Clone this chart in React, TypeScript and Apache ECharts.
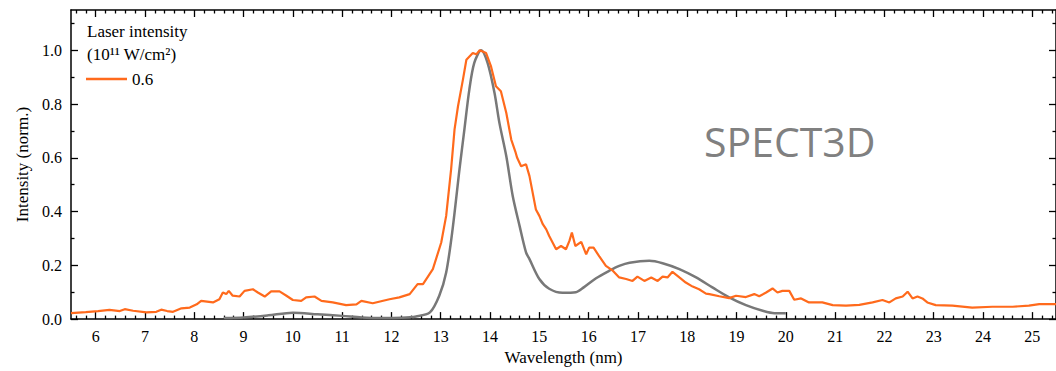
import React, { useEffect, useRef } from "react";
import * as echarts from "echarts";

// Experimental spectrum, laser intensity 0.6 x 10^11 W/cm² : [wavelength nm, normalized intensity]
const experimentData: [number, number][] = [
  [5.5, 0.022], [5.8, 0.026], [6.05, 0.03], [6.28, 0.034], [6.49, 0.03], [6.59, 0.037],
  [6.76, 0.031], [7.03, 0.025], [7.23, 0.027], [7.33, 0.035], [7.45, 0.03], [7.57, 0.027],
  [7.74, 0.04], [7.91, 0.043], [8.05, 0.055], [8.14, 0.068], [8.38, 0.062], [8.51, 0.074],
  [8.58, 0.099], [8.65, 0.093], [8.7, 0.105], [8.78, 0.087], [8.92, 0.084], [9.02, 0.105],
  [9.19, 0.111], [9.29, 0.099], [9.43, 0.084], [9.56, 0.103], [9.73, 0.103], [9.87, 0.087],
  [10.0, 0.071], [10.17, 0.068], [10.27, 0.081], [10.44, 0.084], [10.58, 0.068], [10.81, 0.062],
  [11.08, 0.052], [11.29, 0.055], [11.39, 0.068], [11.62, 0.059], [11.96, 0.074], [12.16, 0.081],
  [12.37, 0.093], [12.53, 0.13], [12.64, 0.13], [12.84, 0.186], [13.01, 0.285], [13.11, 0.384],
  [13.21, 0.557], [13.28, 0.706], [13.35, 0.792], [13.45, 0.891], [13.52, 0.965], [13.65, 0.99],
  [13.72, 0.985], [13.79, 1.0], [13.92, 0.99], [14.02, 0.94], [14.12, 0.866], [14.22, 0.848],
  [14.33, 0.767], [14.43, 0.668], [14.52, 0.619], [14.55, 0.6], [14.63, 0.569], [14.73, 0.576],
  [14.8, 0.532], [14.93, 0.408], [15.0, 0.384], [15.07, 0.353], [15.14, 0.334], [15.2, 0.309],
  [15.34, 0.26], [15.44, 0.272], [15.54, 0.26], [15.61, 0.291], [15.66, 0.322], [15.73, 0.272],
  [15.85, 0.287], [15.95, 0.241], [16.01, 0.266], [16.1, 0.266], [16.22, 0.232], [16.35, 0.198],
  [16.49, 0.18], [16.62, 0.155], [16.76, 0.149], [16.89, 0.142], [16.99, 0.158], [17.13, 0.142],
  [17.27, 0.155], [17.4, 0.142], [17.5, 0.158], [17.6, 0.155], [17.7, 0.176], [17.84, 0.155],
  [17.97, 0.136], [18.11, 0.121], [18.24, 0.111], [18.38, 0.095], [18.45, 0.093], [18.65, 0.085],
  [18.85, 0.078], [18.99, 0.087], [19.19, 0.082], [19.36, 0.093], [19.46, 0.085], [19.6, 0.099],
  [19.73, 0.114], [19.83, 0.099], [19.93, 0.105], [20.07, 0.105], [20.17, 0.072], [20.31, 0.077],
  [20.47, 0.062], [20.74, 0.062], [20.95, 0.052], [21.22, 0.05], [21.49, 0.053], [21.76, 0.062],
  [21.96, 0.071], [22.1, 0.062], [22.23, 0.077], [22.37, 0.084], [22.47, 0.102], [22.57, 0.077],
  [22.67, 0.084], [22.77, 0.077], [22.87, 0.062], [23.04, 0.052], [23.38, 0.05], [23.78, 0.043],
  [24.19, 0.046], [24.6, 0.046], [24.93, 0.05], [25.14, 0.056], [25.48, 0.056],
];

// SPECT3D simulated spectrum
const simulationData: [number, number][] = [
  [8.6, 0.004], [9.0, 0.006], [9.5, 0.014], [10.0, 0.024], [10.5, 0.018], [11.0, 0.012],
  [11.4, 0.006], [11.8, 0.004], [12.2, 0.005], [12.5, 0.01], [12.78, 0.025], [12.97, 0.087],
  [13.11, 0.173], [13.24, 0.334], [13.38, 0.557], [13.48, 0.706], [13.58, 0.854], [13.68, 0.953],
  [13.82, 1.0], [13.95, 0.953], [14.09, 0.842], [14.19, 0.73], [14.33, 0.606], [14.46, 0.458],
  [14.6, 0.346], [14.73, 0.248], [14.8, 0.223], [15.0, 0.149], [15.2, 0.113], [15.47, 0.098],
  [15.74, 0.1], [15.9, 0.118], [16.15, 0.152], [16.42, 0.18], [16.62, 0.198], [16.83, 0.21],
  [17.23, 0.217], [17.5, 0.208], [17.84, 0.186], [18.18, 0.155], [18.51, 0.118], [18.85, 0.081],
  [19.19, 0.052], [19.53, 0.031], [19.77, 0.022], [20.0, 0.022],
];

const xMajorTicks = [6, 7, 8, 9, 10, 11, 12, 13, 14, 15, 16, 17, 18, 19, 20, 21, 22, 23, 24, 25];
const xMinorTicks: number[] = [
  5.6, 5.8, 6.2, 6.4, 6.6, 6.8, 7.2, 7.4, 7.6, 7.8, 8.2, 8.4, 8.6, 8.8, 9.2, 9.4, 9.6, 9.8,
  10.2, 10.4, 10.6, 10.8, 11.2, 11.4, 11.6, 11.8, 12.2, 12.4, 12.6, 12.8, 13.2, 13.4, 13.6, 13.8,
  14.2, 14.4, 14.6, 14.8, 15.2, 15.4, 15.6, 15.8, 16.2, 16.4, 16.6, 16.8, 17.2, 17.4, 17.6, 17.8,
  18.2, 18.4, 18.6, 18.8, 19.2, 19.4, 19.6, 19.8, 20.2, 20.4, 20.6, 20.8, 21.2, 21.4, 21.6, 21.8,
  22.2, 22.4, 22.6, 22.8, 23.2, 23.4, 23.6, 23.8, 24.2, 24.4, 24.6, 24.8, 25.2, 25.4,
];
const yMajorTicks = [0, 0.2, 0.4, 0.6, 0.8, 1.0];
const yMinorTicks = [0.1, 0.3, 0.5, 0.7, 0.9, 1.1];

const X_MIN = 5.5;
const X_MAX = 25.48;
const Y_MIN = 0;
const Y_MAX = 1.15;

const SERIF = "'Liberation Serif', 'Times New Roman', serif";
const ORANGE = "#ff6a1c";
const GREY = "#787878";

export default function App() {
  const ref = useRef<HTMLDivElement>(null);

  useEffect(() => {
    document.body.style.margin = "0";
    if (!ref.current) return;
    const chart = echarts.init(ref.current, undefined, { renderer: "svg" });

    const xAxisBase = (position: "top" | "bottom", ticks: number[], len: number, showLine: boolean, labels: boolean, name?: string) => ({
      type: "value" as const,
      position,
      min: X_MIN,
      max: X_MAX,
      gridIndex: 0,
      name,
      nameLocation: "middle" as const,
      nameGap: 29,
      nameTextStyle: { fontFamily: SERIF, fontSize: 17, color: "#000" },
      axisLine: { show: showLine, onZero: false, lineStyle: { color: "#000", width: 1.5 } },
      axisTick: { show: true, inside: true, length: len, customValues: ticks, lineStyle: { color: "#000", width: 1.3 } },
      axisLabel: labels
        ? { show: true, customValues: xMajorTicks, margin: 9, fontFamily: SERIF, fontSize: 16, color: "#000", formatter: (v: number) => String(v) }
        : { show: false },
      splitLine: { show: false },
    });

    const yAxisBase = (position: "left" | "right", ticks: number[], len: number, showLine: boolean, labels: boolean, name?: string) => ({
      type: "value" as const,
      position,
      min: Y_MIN,
      max: Y_MAX,
      gridIndex: 0,
      name,
      nameLocation: "middle" as const,
      nameGap: 37,
      nameTextStyle: { fontFamily: SERIF, fontSize: 17, color: "#000" },
      axisLine: { show: showLine, onZero: false, lineStyle: { color: "#000", width: 1.5 } },
      axisTick: { show: true, inside: true, length: len, customValues: ticks, lineStyle: { color: "#000", width: 1.3 } },
      axisLabel: labels
        ? { show: true, customValues: yMajorTicks, margin: 9, fontFamily: SERIF, fontSize: 16, color: "#000", formatter: (v: number) => v.toFixed(1) }
        : { show: false },
      splitLine: { show: false },
    });

    chart.setOption({
      animation: false,
      backgroundColor: "#ffffff",
      grid: { left: 71, top: 10, width: 986, height: 310, containLabel: false },
      xAxis: [
        xAxisBase("bottom", xMajorTicks, 7, true, true, "Wavelength (nm)"),
        xAxisBase("bottom", xMinorTicks, 3.5, false, false),
        xAxisBase("top", xMajorTicks, 7, true, false),
        xAxisBase("top", xMinorTicks, 3.5, false, false),
      ],
      yAxis: [
        yAxisBase("left", yMajorTicks, 7, true, true, "Intensity (norm.)"),
        yAxisBase("left", yMinorTicks, 3.5, false, false),
        yAxisBase("right", yMajorTicks, 7, true, false),
        yAxisBase("right", yMinorTicks, 3.5, false, false),
      ],
      legend: {
        show: true,
        data: [{ name: "0.6", icon: "rect" }],
        left: 86,
        top: 70.5,
        padding: 0,
        itemWidth: 41,
        itemHeight: 2.5,
        itemGap: 0,
        textStyle: { fontFamily: SERIF, fontSize: 17, color: "#000" },
      },
      graphic: [
        {
          type: "text",
          left: 87,
          top: 23,
          style: { text: "Laser intensity", font: `17px ${SERIF}`, fill: "#000" },
        },
        {
          type: "text",
          left: 87,
          top: 46,
          style: { text: "(10¹¹ W/cm²)", font: `17px ${SERIF}`, fill: "#000" },
        },
        {
          type: "text",
          x: 704,
          y: 141,
          style: {
            text: "SPECT3D",
            font: "41px 'Open Sans', 'Noto Sans', sans-serif",
            fill: "#808080",
            textVerticalAlign: "middle",
          },
        },
      ],
      series: [
        {
          name: "SPECT3D",
          type: "line",
          xAxisIndex: 0,
          yAxisIndex: 0,
          data: simulationData,
          symbol: "none",
          smooth: 0.3,
          lineStyle: { color: GREY, width: 2.5 },
          itemStyle: { color: GREY },
          z: 2,
        },
        {
          name: "0.6",
          type: "line",
          xAxisIndex: 0,
          yAxisIndex: 0,
          data: experimentData,
          symbol: "none",
          lineStyle: { color: ORANGE, width: 2.2 },
          itemStyle: { color: ORANGE },
          z: 3,
        },
      ],
    });

    return () => chart.dispose();
  }, []);

  return <div ref={ref} style={{ width: 1056, height: 371 }} />;
}
